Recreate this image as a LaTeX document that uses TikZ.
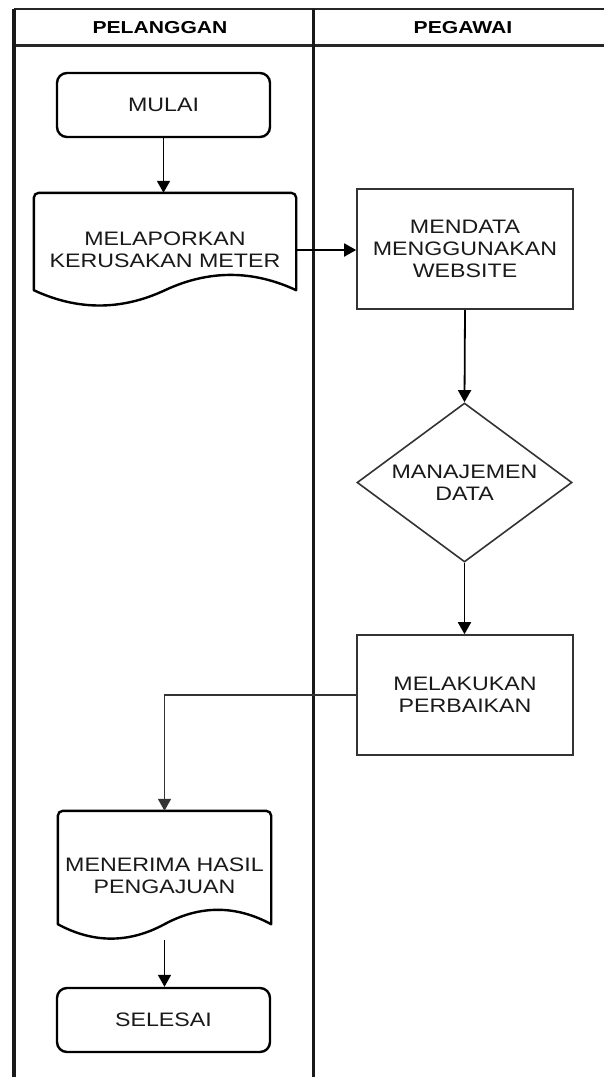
\documentclass[tikz,border=0pt]{standalone}
\usepackage{fontspec}
\setmainfont{Liberation Sans}[FakeStretch=1.19]
\newfontfamily\hdrfont{Liberation Sans}[FakeStretch=1.22]
\usetikzlibrary{shapes.geometric,arrows.meta,calc}

\begin{document}
\begin{tikzpicture}[x=1pt,y=-1pt,
  lanev/.style={line width=3.2pt, draw=black!90},
  laneh/.style={line width=2.4pt, draw=black!85},
  hdr/.style={font=\hdrfont\bfseries\fontsize{17.3}{20}\selectfont, inner sep=0pt},
  txt/.style={font=\fontsize{19.5}{22}\selectfont, align=center, text=black!90},
  term/.style={txt, draw=black, line width=2.4pt, rounded corners=10pt, minimum width=213pt, minimum height=64pt, inner sep=0pt},
  proc/.style={txt, draw=black!80, line width=1.6pt, minimum width=216pt, minimum height=120pt, inner sep=0pt},
  dec/.style={txt, diamond, aspect=1.35, draw=black!80, line width=1.6pt, minimum width=215pt, minimum height=159pt, inner sep=0pt},
  docbox/.style={txt, inner sep=0pt},
  docline/.style={draw=black, line width=2.4pt, line join=round},
  arr/.style={line width=1.8pt, draw=black, -{Triangle[width=13pt,length=12pt]}},
  link/.style={line width=1.6pt, draw=black!80, -{Triangle[width=13pt,length=12pt]}}
]
\useasboundingbox (0,0) rectangle (604,1077);

% swimlanes
\draw[laneh] (14,9) -- (604,9);
\draw[laneh] (14,45.5) -- (604,45.5);
\draw[lanev] (14,9) -- (14,1077);
\draw[lanev] (313.5,9) -- (313.5,1077);
\node[hdr] (h1) at (160,28) {PELANGGAN};
\node[hdr] (h2) at (463,28) {PEGAWAI};

% nodes
\node[term] (mulai) at (163.5,105) {MULAI};
\node[docbox, minimum width=262pt, minimum height=114pt] (d1) at (165,250) {MELAPORKAN\\KERUSAKAN METER};
\node[proc] (p1) at (465,249) {MENDATA\\MENGGUNAKAN\\WEBSITE};
\node[dec] (dc) at (464.5,482.5) {MANAJEMEN\\DATA};
\node[proc] (p2) at (465,695) {MELAKUKAN\\PERBAIKAN};
\node[docbox, minimum width=213pt, minimum height=129pt] (d2) at (164.5,875.5) {MENERIMA HASIL\\PENGAJUAN};
\node[term] (sel) at (163.5,1020) {SELESAI};

% document outlines
\draw[docline] ($(d1.south west)+(0,-17)$) [rounded corners=5pt] -- (d1.north west) -- (d1.north east) [sharp corners] -- ($(d1.south east)+(0,-17)$)
  .. controls ($(d1.south east)+(-43.7,-37.4)$) and ($(d1.south)+(43.7,-37.4)$) .. ($(d1.south)+(0,-17)$)
  .. controls ($(d1.south)+(-43.7,3.4)$) and ($(d1.south west)+(43.7,3.4)$) .. ($(d1.south west)+(0,-17)$) -- cycle;
\draw[docline] ($(d2.south west)+(0,-16)$) [rounded corners=5pt] -- (d2.north west) -- (d2.north east) [sharp corners] -- ($(d2.south east)+(0,-16)$)
  .. controls ($(d2.south east)+(-35.5,-35.2)$) and ($(d2.south)+(35.5,-35.2)$) .. ($(d2.south)+(0,-16)$)
  .. controls ($(d2.south)+(-35.5,3.2)$) and ($(d2.south west)+(35.5,3.2)$) .. ($(d2.south west)+(0,-16)$) -- cycle;

% connectors
\draw[arr] (mulai.south) -- (mulai.south |- d1.north);
\draw[arr] (d1.east) -- (d1.east -| p1.west);
\draw[arr] (p1.south) -- (dc.north);
\draw[arr] (dc.south) -- (dc.south |- p2.north);
\draw[link] (p2.west) -| (d2.north);
\draw[arr] (d2.south) -- (d2.south |- sel.north);
\end{tikzpicture}
\end{document}
